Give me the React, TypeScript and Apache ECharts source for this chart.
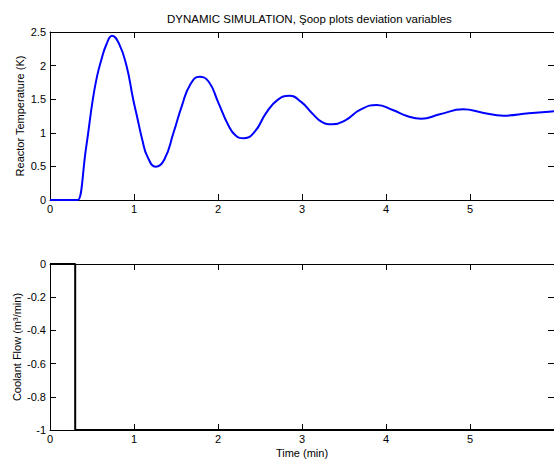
import React, { useEffect, useRef } from "react";
import * as echarts from "echarts";

const titleText = "DYNAMIC SIMULATION, Şoop plots deviation variables";
const xTicks = [0, 1, 2, 3, 4, 5];

const timeTop = [
  0, 0.32, 0.33, 0.43, 0.51, 0.56, 0.61, 0.67, 0.74, 0.82, 0.91, 0.99, 1.04, 1.1, 1.16, 1.26, 1.36,
  1.47, 1.57, 1.67, 1.78, 1.89, 2.0, 2.12, 2.21, 2.31, 2.44, 2.57, 2.71, 2.85, 2.99, 3.12, 3.24,
  3.36, 3.52, 3.69, 3.89, 4.08, 4.25, 4.42, 4.64, 4.92, 5.15, 5.4, 5.7, 5.94, 6.0,
];
const tempTop = [
  0, 0, 0, 0.78, 1.5, 1.84, 2.08, 2.31, 2.445, 2.33, 2.0, 1.5, 1.22, 0.89, 0.645, 0.496, 0.6,
  1.0, 1.4, 1.72, 1.835, 1.76, 1.46, 1.12, 0.96, 0.92, 1.02, 1.29, 1.49, 1.55, 1.46, 1.29, 1.16,
  1.126, 1.19, 1.34, 1.415, 1.34, 1.25, 1.21, 1.275, 1.35, 1.3, 1.255, 1.29, 1.315, 1.32,
];

const timeBottom = [0, 0.3, 0.3, 6];
const flowBottom = [0, 0, -1, -1];

const FONT = "Liberation Sans, Arial, sans-serif";

export default function App() {
  const ref = useRef<HTMLDivElement>(null);
  useEffect(() => {
    if (!ref.current) return;
    const chart = echarts.init(ref.current, undefined, { renderer: "svg" });
    const axisLine = { show: true, onZero: false, lineStyle: { color: "#000", width: 1 } };
    const tickIn = { show: true, inside: true, length: 6, lineStyle: { color: "#000", width: 1 } };
    const lbl = { fontFamily: FONT, fontSize: 11, color: "#000" };
    const mkX = (grid: number, pos: "bottom" | "top", show: boolean, name?: string) => ({
      type: "value",
      gridIndex: grid,
      position: pos,
      min: 0,
      max: 6,
      interval: 1,
      axisLine,
      axisTick: tickIn,
      splitLine: { show: false },
      axisLabel: show
        ? { ...lbl, margin: 3, showMaxLabel: false, formatter: (v: number) => (xTicks.includes(v) ? String(v) : "") }
        : { show: false },
      name: name,
      nameLocation: "middle",
      nameGap: 17,
      nameMoveOverlap: false,
      nameTextStyle: { ...lbl },
    });
    const mkY = (grid: number, pos: "left" | "right", show: boolean, min: number, max: number, iv: number, name?: string, gap?: number) => ({
      type: "value",
      gridIndex: grid,
      position: pos,
      min,
      max,
      interval: iv,
      axisLine,
      axisTick: tickIn,
      splitLine: { show: false },
      axisLabel: show
        ? { ...lbl, margin: 4, formatter: (v: number) => String(Math.round(v * 10) / 10) }
        : { show: false },
      name: name,
      nameLocation: "middle",
      nameRotate: 90,
      nameGap: gap ?? 20,
      nameMoveOverlap: false,
      nameTextStyle: { ...lbl },
    });
    chart.setOption({
      animation: false,
      backgroundColor: "#fff",
      title: {
        text: titleText,
        left: 162,
        top: 8,
        textStyle: { fontFamily: FONT, fontSize: 11.5, fontWeight: "normal", color: "#000" },
      },
      grid: [
        { left: 50, top: 32, width: 508, height: 168 },
        { left: 50, top: 264, width: 508, height: 166 },
      ],
      xAxis: [
        mkX(0, "bottom", true),
        mkX(0, "top", false),
        mkX(1, "bottom", true, "Time (min)"),
        mkX(1, "top", false),
      ],
      yAxis: [
        mkY(0, "left", true, 0, 2.5, 0.5, "Reactor Temperature (K)", 25),
        mkY(0, "right", false, 0, 2.5, 0.5),
        mkY(1, "left", true, -1, 0, 0.2, "Coolant Flow (m³/min)", 28),
        mkY(1, "right", false, -1, 0, 0.2),
      ],
      series: [
        {
          type: "line",
          xAxisIndex: 0,
          yAxisIndex: 0,
          data: timeTop.map((t, i) => [t, tempTop[i]]),
          smooth: 0.5,
          showSymbol: false,
          clip: false,
          lineStyle: { color: "#0000ff", width: 2 },
        },
        {
          type: "line",
          xAxisIndex: 2,
          yAxisIndex: 2,
          data: timeBottom.map((t, i) => [t, flowBottom[i]]),
          showSymbol: false,
          clip: false,
          lineStyle: { color: "#000", width: 2 },
        },
      ],
    });
    return () => chart.dispose();
  }, []);
  return (
    <div
      ref={ref}
      style={{ position: "absolute", left: 0, top: 0, width: 554, height: 461, background: "#fff" }}
    />
  );
}
